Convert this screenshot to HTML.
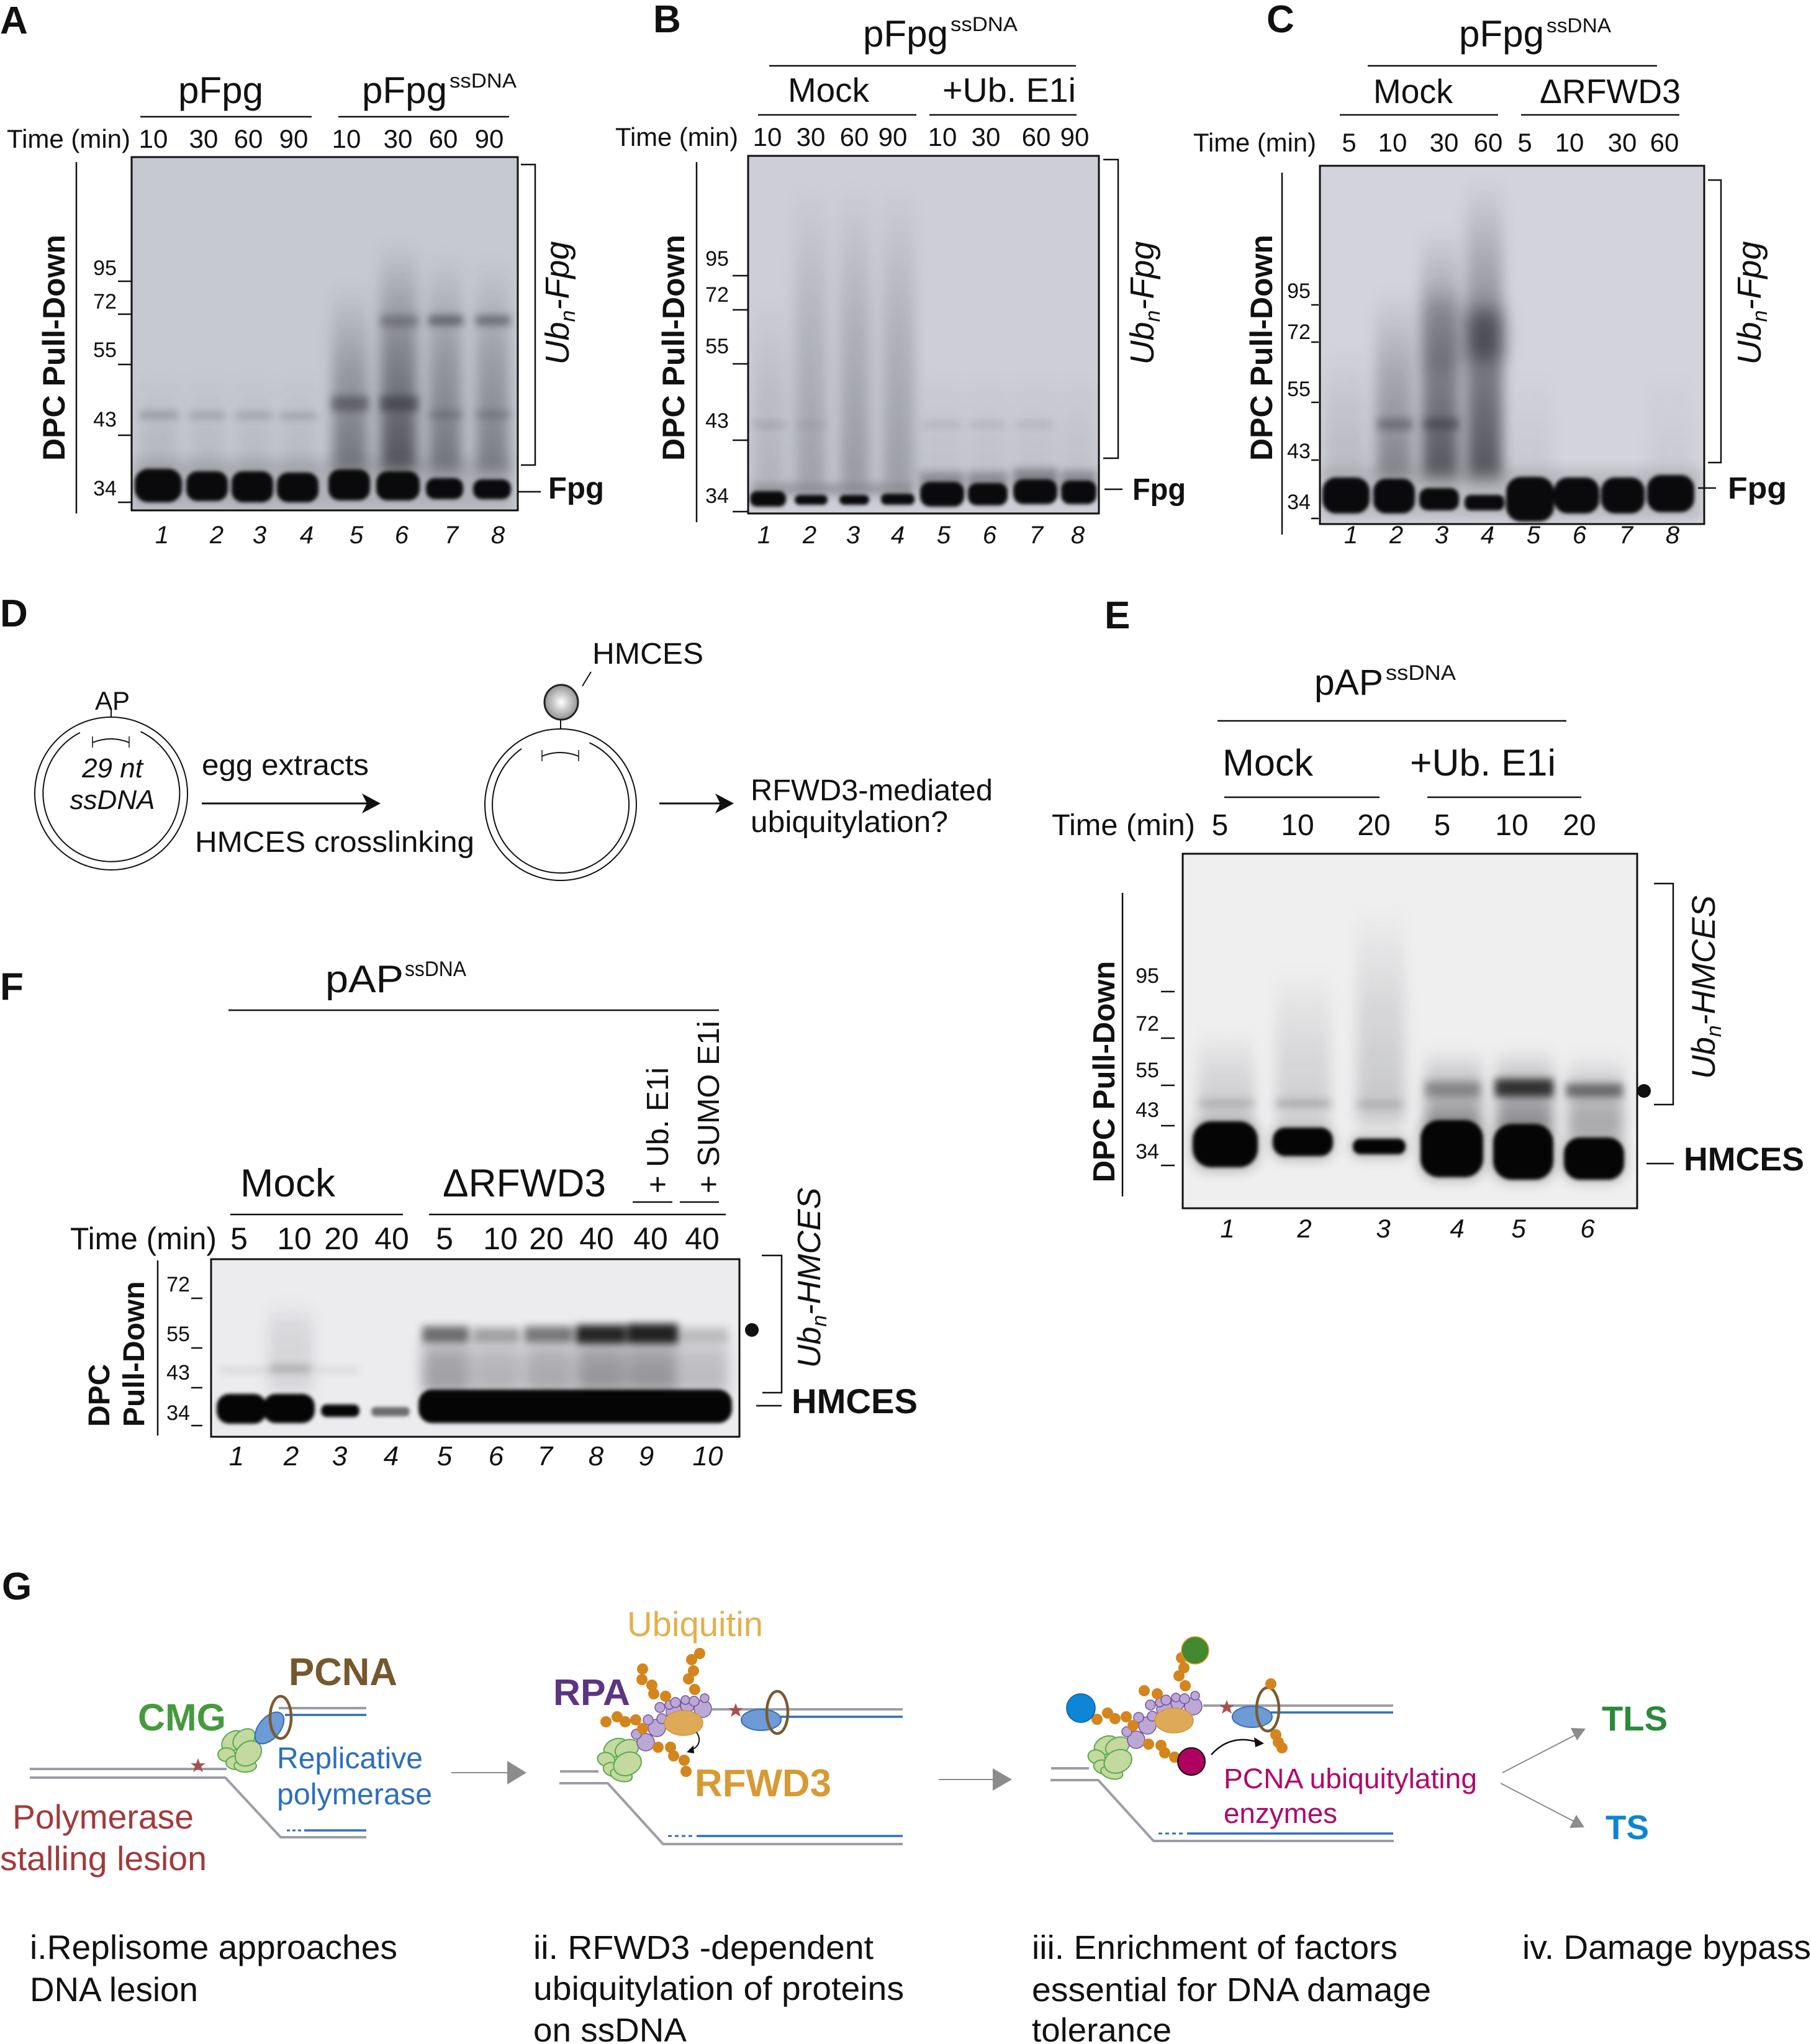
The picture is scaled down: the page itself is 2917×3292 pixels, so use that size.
<!DOCTYPE html>
<html><head><meta charset="utf-8"><style>html,body{margin:0;padding:0;background:#fff}svg{display:block}</style></head>
<body>
<svg xmlns="http://www.w3.org/2000/svg" xmlns:xlink="http://www.w3.org/1999/xlink" width="2917" height="3292" viewBox="0 0 2917 3292" font-family="'Liberation Sans', Arial, sans-serif" fill="#111">
<defs>
<filter id="f3" x="-50%" y="-50%" width="200%" height="200%" color-interpolation-filters="sRGB"><feGaussianBlur stdDeviation="3"/></filter>
<filter id="f6" x="-50%" y="-50%" width="200%" height="200%" color-interpolation-filters="sRGB"><feGaussianBlur stdDeviation="6"/></filter>
<filter id="f9" x="-50%" y="-50%" width="200%" height="200%" color-interpolation-filters="sRGB"><feGaussianBlur stdDeviation="9"/></filter>
<filter id="fs" x="-50%" y="-50%" width="200%" height="200%" color-interpolation-filters="sRGB"><feGaussianBlur stdDeviation="11 14"/></filter>
<filter id="f16" x="-50%" y="-50%" width="200%" height="200%" color-interpolation-filters="sRGB"><feGaussianBlur stdDeviation="16"/></filter>
<linearGradient id="sm" x1="0" y1="0" x2="0" y2="1"><stop offset="0" stop-color="#1e1f25" stop-opacity="0"/><stop offset="0.45" stop-color="#1e1f25" stop-opacity="0.55"/><stop offset="1" stop-color="#1e1f25" stop-opacity="1"/></linearGradient>
<linearGradient id="smu" x1="0" y1="0" x2="0" y2="1"><stop offset="0" stop-color="#1e1f25" stop-opacity="0"/><stop offset="0.25" stop-color="#1e1f25" stop-opacity="0.8"/><stop offset="1" stop-color="#1e1f25" stop-opacity="1"/></linearGradient>
<clipPath id="cA"><rect x="212" y="253" width="622" height="569"/></clipPath>
<clipPath id="cB"><rect x="1205" y="251" width="565" height="576"/></clipPath>
<clipPath id="cC"><rect x="2126" y="267" width="619" height="577"/></clipPath>
<clipPath id="cE"><rect x="1905" y="1375" width="732" height="571"/></clipPath>
<clipPath id="cF"><rect x="340" y="2028" width="851" height="286"/></clipPath>
<radialGradient id="gball" cx="0.5" cy="0.5" r="0.6"><stop offset="0" stop-color="#ffffff"/><stop offset="1" stop-color="#7d7d7d"/></radialGradient>
<g id="cmg" fill="#c3d9a0" stroke="#5aaa4b" stroke-width="2">
<ellipse cx="-10" cy="-17" rx="20" ry="14" transform="rotate(-40 -10 -17)"/>
<ellipse cx="8" cy="-20" rx="20" ry="14" transform="rotate(-40 8 -20)"/>
<ellipse cx="-20" cy="5" rx="14" ry="11"/>
<ellipse cx="-5" cy="18" rx="16" ry="11"/>
<ellipse cx="10" cy="23" rx="18" ry="10"/>
<ellipse cx="15" cy="3" rx="23" ry="18" transform="rotate(-40 15 3)"/>
</g>
<g id="rpa" fill="#bba8d5" stroke="#74509e" stroke-width="1.5">
<circle cx="1132" cy="2752" r="14"/><circle cx="1058" cy="2783" r="14"/><circle cx="1040" cy="2806" r="14"/>
<circle cx="1086" cy="2757" r="13"/><circle cx="1107" cy="2747" r="11"/>
<circle cx="1063" cy="2750" r="8"/><circle cx="1078" cy="2746" r="7"/><circle cx="1088" cy="2742" r="8"/>
<circle cx="1104" cy="2738" r="7"/><circle cx="1118" cy="2740" r="8"/><circle cx="1135" cy="2735" r="7"/>
<circle cx="1044" cy="2770" r="8"/><circle cx="1025" cy="2793" r="8"/><circle cx="1066" cy="2768" r="8"/>
</g>
</defs>
<rect width="2917" height="3292" fill="#fff"/>

<!-- ================= PANEL A ================= -->
<text x="0" y="54" font-size="62" font-weight="bold">A</text>
<text x="287" y="166" font-size="60" textLength="137" lengthAdjust="spacingAndGlyphs">pFpg</text>
<text x="583" y="166" font-size="60" textLength="137" lengthAdjust="spacingAndGlyphs">pFpg</text>
<text x="724" y="141" font-size="32" textLength="108" lengthAdjust="spacingAndGlyphs">ssDNA</text>
<g stroke="#111" stroke-width="2.5"><line x1="226" y1="188" x2="502" y2="188"/><line x1="545" y1="188" x2="820" y2="188"/></g>
<text x="11" y="238" font-size="42" textLength="199" lengthAdjust="spacingAndGlyphs">Time (min)</text>
<g font-size="42" text-anchor="middle">
<text x="247" y="238">10</text><text x="328" y="238">30</text><text x="400" y="238">60</text><text x="473" y="238">90</text>
<text x="558" y="238">10</text><text x="641" y="238">30</text><text x="714" y="238">60</text><text x="788" y="238">90</text>
</g>
<g clip-path="url(#cA)">
<rect x="212" y="253" width="622" height="569" fill="#c7c9d1"/>
<g fill="url(#sm)" filter="url(#fs)">
<rect x="225" y="600" width="62" height="170" opacity="0.12"/>
<rect x="305" y="600" width="58" height="170" opacity="0.1"/>
<rect x="380" y="600" width="58" height="170" opacity="0.1"/>
<rect x="452" y="600" width="58" height="170" opacity="0.1"/>
<rect x="535" y="460" width="58" height="300" opacity="0.5"/>
<rect x="612" y="390" width="60" height="370" opacity="0.7"/>
<rect x="690" y="410" width="54" height="350" opacity="0.5"/>
<rect x="766" y="420" width="54" height="340" opacity="0.45"/>
</g>
<g fill="#202126" filter="url(#f6)">
<rect x="534" y="638" width="60" height="24" opacity="0.4"/>
<rect x="612" y="638" width="62" height="24" opacity="0.45"/>
<rect x="612" y="508" width="62" height="18" opacity="0.3"/>
<rect x="690" y="508" width="56" height="16" opacity="0.5"/>
<rect x="766" y="508" width="56" height="16" opacity="0.45"/>
<rect x="690" y="663" width="56" height="10" opacity="0.25"/>
<rect x="766" y="663" width="56" height="10" opacity="0.25"/>
<rect x="225" y="664" width="62" height="9" opacity="0.3"/>
<rect x="305" y="665" width="58" height="8" opacity="0.25"/>
<rect x="380" y="665" width="58" height="8" opacity="0.25"/>
<rect x="452" y="666" width="58" height="8" opacity="0.25"/>
</g>
<g fill="#333" filter="url(#f9)" opacity="0.15">
<rect x="215" y="740" width="610" height="80"/>
</g>
<g fill="#0a0a0c" filter="url(#f3)">
<rect x="217" y="755" width="76" height="54" rx="22"/>
<rect x="300" y="759" width="67" height="48" rx="18"/>
<rect x="373" y="759" width="67" height="50" rx="18"/>
<rect x="446" y="761" width="67" height="48" rx="18"/>
<rect x="529" y="756" width="67" height="50" rx="18"/>
<rect x="606" y="759" width="70" height="47" rx="18"/>
<rect x="686" y="770" width="60" height="34" rx="14"/>
<rect x="762" y="772" width="61" height="32" rx="14"/>
</g>
</g>
<rect x="212" y="253" width="622" height="569" fill="none" stroke="#111" stroke-width="3"/>
<line x1="123" y1="261" x2="123" y2="827" stroke="#111" stroke-width="2.5"/>
<text transform="translate(104,560) rotate(-90)" text-anchor="middle" font-size="50" font-weight="bold">DPC Pull-Down</text>
<g font-size="34" text-anchor="middle">
<text x="169" y="443">95</text><text x="169" y="497">72</text><text x="169" y="575">55</text><text x="169" y="687">43</text><text x="169" y="798">34</text>
</g>
<g stroke="#111" stroke-width="2.5">
<line x1="190" y1="453" x2="212" y2="453"/><line x1="190" y1="506" x2="212" y2="506"/><line x1="190" y1="587" x2="212" y2="587"/><line x1="190" y1="701" x2="212" y2="701"/><line x1="190" y1="809" x2="212" y2="809"/>
</g>
<g font-size="40" font-style="italic" text-anchor="middle">
<text x="261" y="875">1</text><text x="349" y="875">2</text><text x="418" y="875">3</text><text x="494" y="875">4</text>
<text x="574" y="875">5</text><text x="647" y="875">6</text><text x="727" y="875">7</text><text x="802" y="875">8</text>
</g>
<path d="M839,265 H862 V749 H839" fill="none" stroke="#111" stroke-width="2.5"/>
<text transform="translate(916,488) rotate(-90)" text-anchor="middle" font-size="54" font-style="italic">Ub<tspan font-size="34" dy="10">n</tspan><tspan dy="-10">-Fpg</tspan></text>
<line x1="835" y1="792" x2="871" y2="792" stroke="#111" stroke-width="2.5"/>
<text x="883" y="803" font-size="49" font-weight="bold" textLength="90" lengthAdjust="spacingAndGlyphs">Fpg</text>

<!-- ================= PANEL B ================= -->
<text x="1052" y="52" font-size="62" font-weight="bold">B</text>
<text x="1390" y="75" font-size="60" textLength="137" lengthAdjust="spacingAndGlyphs">pFpg</text>
<text x="1531" y="50" font-size="32" textLength="108" lengthAdjust="spacingAndGlyphs">ssDNA</text>
<line x1="1239" y1="106" x2="1733" y2="106" stroke="#111" stroke-width="2.5"/>
<text x="1269" y="164" font-size="55" textLength="131" lengthAdjust="spacingAndGlyphs">Mock</text>
<text x="1518" y="164" font-size="55" textLength="215" lengthAdjust="spacingAndGlyphs">+Ub. E1i</text>
<g stroke="#111" stroke-width="2.5"><line x1="1221" y1="185" x2="1476" y2="185"/><line x1="1497" y1="185" x2="1734" y2="185"/></g>
<text x="991" y="235" font-size="42" textLength="198" lengthAdjust="spacingAndGlyphs">Time (min)</text>
<g font-size="42" text-anchor="middle">
<text x="1236" y="235">10</text><text x="1306" y="235">30</text><text x="1376" y="235">60</text><text x="1438" y="235">90</text>
<text x="1518" y="235">10</text><text x="1588" y="235">30</text><text x="1669" y="235">60</text><text x="1731" y="235">90</text>
</g>
<g clip-path="url(#cB)">
<rect x="1205" y="251" width="565" height="576" fill="#cdced6"/>
<g fill="url(#sm)" filter="url(#fs)">
<rect x="1212" y="480" width="54" height="310" opacity="0.16"/>
<rect x="1280" y="300" width="52" height="490" opacity="0.26"/>
<rect x="1352" y="300" width="50" height="490" opacity="0.3"/>
<rect x="1421" y="300" width="52" height="490" opacity="0.28"/>
<rect x="1482" y="600" width="70" height="180" opacity="0.08"/>
<rect x="1559" y="600" width="64" height="180" opacity="0.08"/>
<rect x="1632" y="600" width="70" height="180" opacity="0.08"/>
<rect x="1709" y="600" width="57" height="180" opacity="0.08"/>
</g>
<g fill="#2a2b30" filter="url(#f6)">
<rect x="1212" y="678" width="54" height="12" opacity="0.12"/>
<rect x="1282" y="679" width="50" height="10" opacity="0.08"/>
<rect x="1488" y="679" width="60" height="10" opacity="0.1"/>
<rect x="1562" y="679" width="58" height="10" opacity="0.1"/>
<rect x="1636" y="679" width="60" height="10" opacity="0.1"/>
</g>
<g fill="#2a2b30" filter="url(#f6)">
<rect x="1482" y="760" width="71" height="30" opacity="0.35"/>
<rect x="1559" y="760" width="64" height="30" opacity="0.35"/>
<rect x="1632" y="755" width="71" height="30" opacity="0.4"/>
<rect x="1709" y="758" width="57" height="30" opacity="0.35"/>
<rect x="1210" y="778" width="260" height="20" opacity="0.25"/>
</g>
<g fill="#0a0a0c" filter="url(#f3)">
<rect x="1208" y="791" width="58" height="25" rx="11"/>
<rect x="1280" y="797" width="53" height="16" rx="8"/>
<rect x="1352" y="797" width="48" height="16" rx="8"/>
<rect x="1419" y="795" width="54" height="18" rx="8"/>
<rect x="1482" y="776" width="71" height="40" rx="16"/>
<rect x="1559" y="778" width="64" height="36" rx="14"/>
<rect x="1632" y="772" width="71" height="40" rx="16"/>
<rect x="1709" y="774" width="57" height="38" rx="14"/>
</g>
</g>
<rect x="1205" y="251" width="565" height="576" fill="none" stroke="#111" stroke-width="3"/>
<line x1="1122" y1="261" x2="1122" y2="841" stroke="#111" stroke-width="2.5"/>
<text transform="translate(1102,560) rotate(-90)" text-anchor="middle" font-size="50" font-weight="bold">DPC Pull-Down</text>
<g font-size="34" text-anchor="middle">
<text x="1155" y="428">95</text><text x="1155" y="486">72</text><text x="1155" y="569">55</text><text x="1155" y="689">43</text><text x="1155" y="810">34</text>
</g>
<g stroke="#111" stroke-width="2.5">
<line x1="1180" y1="444" x2="1205" y2="444"/><line x1="1180" y1="499" x2="1205" y2="499"/><line x1="1180" y1="586" x2="1205" y2="586"/><line x1="1180" y1="709" x2="1205" y2="709"/><line x1="1180" y1="824" x2="1205" y2="824"/>
</g>
<g font-size="40" font-style="italic" text-anchor="middle">
<text x="1231" y="875">1</text><text x="1304" y="875">2</text><text x="1374" y="875">3</text><text x="1446" y="875">4</text>
<text x="1520" y="875">5</text><text x="1594" y="875">6</text><text x="1669" y="875">7</text><text x="1736" y="875">8</text>
</g>
<path d="M1777,257 H1801 V738 H1777" fill="none" stroke="#111" stroke-width="2.5"/>
<text transform="translate(1858,488) rotate(-90)" text-anchor="middle" font-size="54" font-style="italic">Ub<tspan font-size="34" dy="10">n</tspan><tspan dy="-10">-Fpg</tspan></text>
<line x1="1779" y1="788" x2="1808" y2="788" stroke="#111" stroke-width="2.5"/>
<text x="1824" y="805" font-size="49" font-weight="bold" textLength="86" lengthAdjust="spacingAndGlyphs">Fpg</text>

<!-- ================= PANEL C ================= -->
<text x="2040" y="52" font-size="62" font-weight="bold">C</text>
<text x="2350" y="75" font-size="60" textLength="137" lengthAdjust="spacingAndGlyphs">pFpg</text>
<text x="2491" y="52" font-size="32" textLength="104" lengthAdjust="spacingAndGlyphs">ssDNA</text>
<line x1="2203" y1="106" x2="2669" y2="106" stroke="#111" stroke-width="2.5"/>
<text x="2212" y="166" font-size="55" textLength="128" lengthAdjust="spacingAndGlyphs">Mock</text>
<text x="2480" y="166" font-size="55" textLength="227" lengthAdjust="spacingAndGlyphs">ΔRFWD3</text>
<g stroke="#111" stroke-width="2.5"><line x1="2158" y1="185" x2="2413" y2="185"/><line x1="2450" y1="185" x2="2705" y2="185"/></g>
<text x="1922" y="244" font-size="42" textLength="198" lengthAdjust="spacingAndGlyphs">Time (min)</text>
<g font-size="42" text-anchor="middle">
<text x="2173" y="244">5</text><text x="2243" y="244">10</text><text x="2326" y="244">30</text><text x="2397" y="244">60</text>
<text x="2456" y="244">5</text><text x="2528" y="244">10</text><text x="2613" y="244">30</text><text x="2681" y="244">60</text>
</g>
<g clip-path="url(#cC)">
<rect x="2126" y="267" width="619" height="577" fill="#d3d4db"/>
<g fill="url(#sm)" filter="url(#fs)">
<rect x="2132" y="560" width="70" height="210" opacity="0.15"/>
<rect x="2216" y="470" width="60" height="300" opacity="0.45"/>
<rect x="2290" y="370" width="60" height="400" opacity="0.7"/>
<rect x="2362" y="290" width="58" height="480" opacity="0.7"/>
<rect x="2430" y="600" width="70" height="170" opacity="0.06"/>
<rect x="2655" y="600" width="70" height="170" opacity="0.05"/>
</g>
<g fill="#1a1b20" filter="url(#f6)">
<rect x="2218" y="674" width="58" height="18" opacity="0.3"/>
<rect x="2292" y="674" width="58" height="18" opacity="0.35"/>
</g>
<g fill="#1a1b20" filter="url(#f16)">
<rect x="2364" y="500" width="54" height="80" opacity="0.55"/>
<rect x="2294" y="480" width="54" height="120" opacity="0.2"/>
</g>
<g fill="#333" filter="url(#f9)" opacity="0.15">
<rect x="2128" y="755" width="610" height="80"/>
</g>
<g fill="#0a0a0c" filter="url(#f3)">
<rect x="2130" y="769" width="76" height="58" rx="22"/>
<rect x="2212" y="771" width="67" height="56" rx="20"/>
<rect x="2286" y="786" width="64" height="36" rx="14"/>
<rect x="2359" y="797" width="64" height="25" rx="10"/>
<rect x="2426" y="768" width="77" height="72" rx="24"/>
<rect x="2503" y="769" width="73" height="58" rx="22"/>
<rect x="2579" y="769" width="70" height="58" rx="22"/>
<rect x="2653" y="765" width="76" height="60" rx="22"/>
</g>
</g>
<rect x="2126" y="267" width="619" height="577" fill="none" stroke="#111" stroke-width="3"/>
<line x1="2065" y1="278" x2="2065" y2="861" stroke="#111" stroke-width="2.5"/>
<text transform="translate(2049,560) rotate(-90)" text-anchor="middle" font-size="50" font-weight="bold">DPC Pull-Down</text>
<g font-size="34" text-anchor="middle">
<text x="2092" y="480">95</text><text x="2092" y="546">72</text><text x="2092" y="638">55</text><text x="2092" y="738">43</text><text x="2092" y="820">34</text>
</g>
<g stroke="#111" stroke-width="2.5">
<line x1="2112" y1="491" x2="2124" y2="491"/><line x1="2112" y1="551" x2="2124" y2="551"/><line x1="2112" y1="648" x2="2124" y2="648"/><line x1="2112" y1="741" x2="2124" y2="741"/><line x1="2112" y1="835" x2="2124" y2="835"/>
</g>
<g font-size="40" font-style="italic" text-anchor="middle">
<text x="2176" y="875">1</text><text x="2249" y="875">2</text><text x="2322" y="875">3</text><text x="2396" y="875">4</text>
<text x="2470" y="875">5</text><text x="2544" y="875">6</text><text x="2619" y="875">7</text><text x="2694" y="875">8</text>
</g>
<path d="M2751,290 H2772 V745 H2751" fill="none" stroke="#111" stroke-width="2.5"/>
<text transform="translate(2836,488) rotate(-90)" text-anchor="middle" font-size="54" font-style="italic">Ub<tspan font-size="34" dy="10">n</tspan><tspan dy="-10">-Fpg</tspan></text>
<line x1="2735" y1="786" x2="2764" y2="786" stroke="#111" stroke-width="2.5"/>
<text x="2783" y="803" font-size="49" font-weight="bold" textLength="95" lengthAdjust="spacingAndGlyphs">Fpg</text>

<!-- ================= PANEL D ================= -->
<text x="0" y="1009" font-size="62" font-weight="bold">D</text>
<text x="181" y="1143" font-size="42" text-anchor="middle">AP</text>
<line x1="179" y1="1143" x2="179" y2="1155" stroke="#111" stroke-width="2"/>
<circle cx="179" cy="1278" r="123" fill="none" stroke="#111" stroke-width="2"/>
<path d="M 226.5 1178.3 A 110 110 0 1 1 128.8 1180.0" fill="none" stroke="#111" stroke-width="2"/>
<path d="M149,1196 Q179,1184 208,1196" fill="none" stroke="#111" stroke-width="2"/>
<line x1="149" y1="1186" x2="149" y2="1204" stroke="#111" stroke-width="1.5"/><line x1="208" y1="1186" x2="208" y2="1204" stroke="#111" stroke-width="1.5"/>
<text x="181" y="1252" font-size="44" font-style="italic" text-anchor="middle">29 nt</text>
<text x="181" y="1303" font-size="44" font-style="italic" text-anchor="middle">ssDNA</text>
<text x="325" y="1248" font-size="47" textLength="269" lengthAdjust="spacingAndGlyphs">egg extracts</text>
<line x1="325" y1="1294" x2="595" y2="1294" stroke="#111" stroke-width="3"/>
<polygon points="583,1278 613,1294 583,1310 591,1294" fill="#111"/>
<text x="314" y="1372" font-size="47" textLength="450" lengthAdjust="spacingAndGlyphs">HMCES crosslinking</text>
<circle cx="903" cy="1296" r="122" fill="none" stroke="#111" stroke-width="2"/>
<path d="M 949.5 1196.3 A 110 110 0 1 1 840.0 1205.9" fill="none" stroke="#111" stroke-width="2"/>
<path d="M873,1218 Q902,1206 932,1218" fill="none" stroke="#111" stroke-width="2"/>
<line x1="873" y1="1208" x2="873" y2="1226" stroke="#111" stroke-width="1.5"/><line x1="932" y1="1208" x2="932" y2="1226" stroke="#111" stroke-width="1.5"/>
<line x1="903" y1="1159" x2="903" y2="1174" stroke="#111" stroke-width="2"/>
<ellipse cx="904" cy="1131" rx="27" ry="28" fill="url(#gball)" stroke="#222" stroke-width="3"/>
<line x1="938" y1="1105" x2="952" y2="1082" stroke="#111" stroke-width="2"/>
<text x="954" y="1069" font-size="48" textLength="179" lengthAdjust="spacingAndGlyphs">HMCES</text>
<line x1="1062" y1="1294" x2="1165" y2="1294" stroke="#111" stroke-width="3"/>
<polygon points="1152,1278 1182,1294 1152,1310 1160,1294" fill="#111"/>
<text x="1209" y="1289" font-size="48" textLength="390" lengthAdjust="spacingAndGlyphs">RFWD3-mediated</text>
<text x="1209" y="1340" font-size="48" textLength="318" lengthAdjust="spacingAndGlyphs">ubiquitylation?</text>

<!-- ================= PANEL E ================= -->
<text x="1779" y="1012" font-size="62" font-weight="bold">E</text>
<text x="2117" y="1119" font-size="58" textLength="111" lengthAdjust="spacingAndGlyphs">pAP</text>
<text x="2232" y="1095" font-size="34" textLength="113" lengthAdjust="spacingAndGlyphs">ssDNA</text>
<line x1="1961" y1="1161" x2="2523" y2="1161" stroke="#111" stroke-width="2.5"/>
<text x="1969" y="1249" font-size="60" textLength="146" lengthAdjust="spacingAndGlyphs">Mock</text>
<text x="2271" y="1249" font-size="60" textLength="235" lengthAdjust="spacingAndGlyphs">+Ub. E1i</text>
<g stroke="#111" stroke-width="2.5"><line x1="1972" y1="1284" x2="2222" y2="1284"/><line x1="2299" y1="1284" x2="2547" y2="1284"/></g>
<text x="1694" y="1345" font-size="48" textLength="231" lengthAdjust="spacingAndGlyphs">Time (min)</text>
<g font-size="48" text-anchor="middle">
<text x="1965" y="1345">5</text><text x="2090" y="1345">10</text><text x="2213" y="1345">20</text>
<text x="2323" y="1345">5</text><text x="2435" y="1345">10</text><text x="2544" y="1345">20</text>
</g>
<g clip-path="url(#cE)">
<rect x="1905" y="1375" width="732" height="571" fill="#efeff0"/>
<g fill="url(#sm)" filter="url(#fs)">
<rect x="1930" y="1660" width="90" height="150" opacity="0.2"/>
<rect x="2055" y="1560" width="88" height="250" opacity="0.17"/>
<rect x="2185" y="1460" width="78" height="350" opacity="0.2"/>
<rect x="2295" y="1690" width="92" height="130" opacity="0.45"/>
<rect x="2410" y="1690" width="92" height="130" opacity="0.5"/>
<rect x="2525" y="1700" width="90" height="130" opacity="0.4"/>
</g>
<g fill="#111" filter="url(#f6)">
<rect x="1930" y="1772" width="90" height="10" opacity="0.18"/>
<rect x="2055" y="1772" width="88" height="10" opacity="0.22"/>
<rect x="2185" y="1774" width="75" height="9" opacity="0.18"/>
<rect x="2295" y="1742" width="90" height="24" opacity="0.3"/>
<rect x="2408" y="1738" width="94" height="28" opacity="0.8"/>
<rect x="2522" y="1745" width="92" height="22" opacity="0.5"/>
</g>
<g fill="#333" filter="url(#f9)" opacity="0.25">
<rect x="1918" y="1800" width="112" height="88" rx="30"/>
<rect x="2046" y="1810" width="105" height="60" rx="25"/>
<rect x="2175" y="1828" width="93" height="38" rx="15"/>
<rect x="2284" y="1798" width="109" height="105" rx="30"/>
<rect x="2400" y="1804" width="107" height="102" rx="30"/>
<rect x="2514" y="1826" width="106" height="80" rx="30"/>
</g>
<g fill="#050505" filter="url(#f3)">
<rect x="1921" y="1806" width="105" height="74" rx="30"/>
<rect x="2050" y="1816" width="97" height="46" rx="20"/>
<rect x="2179" y="1834" width="85" height="25" rx="12"/>
<rect x="2288" y="1804" width="101" height="92" rx="30"/>
<rect x="2405" y="1810" width="97" height="90" rx="30"/>
<rect x="2519" y="1832" width="97" height="68" rx="26"/>
</g>
</g>
<rect x="1905" y="1375" width="732" height="571" fill="none" stroke="#111" stroke-width="3"/>
<line x1="1808" y1="1438" x2="1808" y2="1927" stroke="#111" stroke-width="2.5"/>
<text transform="translate(1795,1726) rotate(-90)" text-anchor="middle" font-size="49" font-weight="bold">DPC Pull-Down</text>
<g font-size="34" text-anchor="middle">
<text x="1848" y="1583">95</text><text x="1848" y="1660">72</text><text x="1848" y="1735">55</text><text x="1848" y="1799">43</text><text x="1848" y="1866">34</text>
</g>
<g stroke="#111" stroke-width="2.5">
<line x1="1870" y1="1597" x2="1892" y2="1597"/><line x1="1870" y1="1672" x2="1892" y2="1672"/><line x1="1870" y1="1748" x2="1892" y2="1748"/><line x1="1870" y1="1813" x2="1892" y2="1813"/><line x1="1870" y1="1877" x2="1892" y2="1877"/>
</g>
<g font-size="42" font-style="italic" text-anchor="middle">
<text x="1977" y="1993">1</text><text x="2101" y="1993">2</text><text x="2228" y="1993">3</text>
<text x="2347" y="1993">4</text><text x="2446" y="1993">5</text><text x="2557" y="1993">6</text>
</g>
<path d="M2664,1423 H2695 V1779 H2664" fill="none" stroke="#111" stroke-width="2.5"/>
<circle cx="2648" cy="1757" r="11" fill="#111"/>
<text transform="translate(2762,1590) rotate(-90)" text-anchor="middle" font-size="53" font-style="italic">Ub<tspan font-size="34" dy="10">n</tspan><tspan dy="-10">-HMCES</tspan></text>
<line x1="2652" y1="1874" x2="2696" y2="1874" stroke="#111" stroke-width="2.5"/>
<text x="2712" y="1885" font-size="53" font-weight="bold" textLength="194" lengthAdjust="spacingAndGlyphs">HMCES</text>

<!-- ================= PANEL F ================= -->
<text x="0" y="1610" font-size="62" font-weight="bold">F</text>
<text x="524" y="1598" font-size="62" textLength="126" lengthAdjust="spacingAndGlyphs">pAP</text>
<text x="652" y="1572" font-size="34" textLength="99" lengthAdjust="spacingAndGlyphs">ssDNA</text>
<line x1="368" y1="1627" x2="1158" y2="1627" stroke="#111" stroke-width="2.5"/>
<text transform="translate(1076,1922) rotate(-90)" font-size="49" textLength="203" lengthAdjust="spacingAndGlyphs">+ Ub. E1i</text>
<text transform="translate(1158,1922) rotate(-90)" font-size="49" textLength="278" lengthAdjust="spacingAndGlyphs">+ SUMO E1i</text>
<g stroke="#111" stroke-width="2.5"><line x1="1019" y1="1936" x2="1083" y2="1936"/><line x1="1095" y1="1936" x2="1158" y2="1936"/></g>
<text x="387" y="1927" font-size="63" textLength="153" lengthAdjust="spacingAndGlyphs">Mock</text>
<text x="713" y="1927" font-size="63" textLength="263" lengthAdjust="spacingAndGlyphs">ΔRFWD3</text>
<g stroke="#111" stroke-width="2.5"><line x1="371" y1="1956" x2="649" y2="1956"/><line x1="691" y1="1956" x2="1169" y2="1956"/></g>
<text x="113" y="2012" font-size="50" textLength="236" lengthAdjust="spacingAndGlyphs">Time (min)</text>
<g font-size="50" text-anchor="middle">
<text x="385" y="2012">5</text><text x="474" y="2012">10</text><text x="550" y="2012">20</text><text x="631" y="2012">40</text>
<text x="716" y="2012">5</text><text x="806" y="2012">10</text><text x="880" y="2012">20</text><text x="961" y="2012">40</text><text x="1048" y="2012">40</text><text x="1131" y="2012">40</text>
</g>
<g clip-path="url(#cF)">
<rect x="340" y="2028" width="851" height="286" fill="#ececef"/>
<g fill="url(#smu)" filter="url(#fs)">
<rect x="680" y="2150" width="78" height="95" opacity="0.4"/>
<rect x="762" y="2150" width="78" height="95" opacity="0.3"/>
<rect x="845" y="2150" width="78" height="95" opacity="0.35"/>
<rect x="928" y="2150" width="80" height="95" opacity="0.45"/>
<rect x="1010" y="2150" width="82" height="95" opacity="0.45"/>
<rect x="1095" y="2150" width="78" height="95" opacity="0.25"/>
<rect x="432" y="2100" width="72" height="140" opacity="0.12"/>
</g>
<g fill="#111" filter="url(#f6)">
<rect x="680" y="2136" width="75" height="26" opacity="0.55"/>
<rect x="762" y="2138" width="75" height="24" opacity="0.3"/>
<rect x="845" y="2136" width="78" height="26" opacity="0.5"/>
<rect x="928" y="2134" width="80" height="30" opacity="0.9"/>
<rect x="1010" y="2132" width="82" height="32" opacity="0.92"/>
<rect x="1095" y="2138" width="78" height="24" opacity="0.18"/>
<rect x="355" y="2203" width="70" height="8" opacity="0.12"/>
<rect x="432" y="2200" width="70" height="9" opacity="0.25"/>
<rect x="512" y="2203" width="65" height="8" opacity="0.1"/>
</g>
<g fill="#050505" filter="url(#f3)">
<rect x="349" y="2245" width="80" height="48" rx="20"/>
<rect x="424" y="2245" width="83" height="47" rx="20"/>
<rect x="517" y="2262" width="62" height="20" rx="9"/>
<rect x="598" y="2266" width="62" height="15" rx="7" opacity="0.55"/>
<rect x="674" y="2238" width="505" height="54" rx="22"/>
</g>
</g>
<rect x="340" y="2028" width="851" height="286" fill="none" stroke="#111" stroke-width="3"/>
<line x1="254" y1="2030" x2="254" y2="2312" stroke="#111" stroke-width="2.5"/>
<text transform="translate(176,2298) rotate(-90)" font-size="48" font-weight="bold">DPC</text>
<text transform="translate(232,2298) rotate(-90)" font-size="48" font-weight="bold">Pull-Down</text>
<g font-size="34" text-anchor="middle">
<text x="287" y="2080">72</text><text x="287" y="2160">55</text><text x="287" y="2222">43</text><text x="287" y="2287">34</text>
</g>
<g stroke="#111" stroke-width="2.5">
<line x1="308" y1="2091" x2="326" y2="2091"/><line x1="308" y1="2171" x2="326" y2="2171"/><line x1="308" y1="2235" x2="326" y2="2235"/><line x1="308" y1="2296" x2="326" y2="2296"/>
</g>
<g font-size="44" font-style="italic" text-anchor="middle">
<text x="381" y="2360">1</text><text x="469" y="2360">2</text><text x="547" y="2360">3</text><text x="630" y="2360">4</text><text x="716" y="2360">5</text>
<text x="799" y="2360">6</text><text x="878" y="2360">7</text><text x="960" y="2360">8</text><text x="1041" y="2360">9</text><text x="1140" y="2360">10</text>
</g>
<path d="M1227,2022 H1259 V2243 H1228" fill="none" stroke="#111" stroke-width="2.5"/>
<circle cx="1211" cy="2142" r="11" fill="#111"/>
<text transform="translate(1321,2058) rotate(-90)" text-anchor="middle" font-size="52" font-style="italic">Ub<tspan font-size="34" dy="10">n</tspan><tspan dy="-10">-HMCES</tspan></text>
<line x1="1218" y1="2264" x2="1259" y2="2264" stroke="#111" stroke-width="2.5"/>
<text x="1275" y="2276" font-size="56" font-weight="bold" textLength="203" lengthAdjust="spacingAndGlyphs">HMCES</text>

<!-- ================= PANEL G ================= -->
<text x="3" y="2576" font-size="62" font-weight="bold">G</text>

<!-- stage i -->
<g fill="none" stroke-linecap="butt">
<path d="M48,2849 H365" stroke="#9d9ea5" stroke-width="4"/>
<path d="M48,2863 H363 L452,2959 H590" stroke="#9d9ea5" stroke-width="4"/>
<path d="M449,2751 H590" stroke="#9d9ea5" stroke-width="4"/>
<path d="M459,2762 H590" stroke="#2f6fc0" stroke-width="3.5"/>
<path d="M490,2948 H590" stroke="#2f6fc0" stroke-width="3.5"/>
<path d="M462,2948 H488" stroke="#2f6fc0" stroke-width="3" stroke-dasharray="5,4"/>
</g>
<polygon points="319,2832 322,2840 331,2840 324,2845 327,2854 319,2849 311,2854 314,2845 307,2840 316,2840" fill="#a8504f"/>
<use xlink:href="#cmg" transform="translate(385,2821)"/>
<ellipse cx="434" cy="2783" rx="30" ry="17" transform="rotate(-50 434 2783)" fill="#6c9bd6" stroke="#3a6db4" stroke-width="2"/>
<ellipse cx="452" cy="2766" rx="17" ry="34" fill="none" stroke="#7a5a30" stroke-width="4.5"/>
<text x="465" y="2714" font-size="62" font-weight="bold" fill="#76582d" textLength="175" lengthAdjust="spacingAndGlyphs">PCNA</text>
<text x="222" y="2787" font-size="61" font-weight="bold" fill="#47993f" textLength="142" lengthAdjust="spacingAndGlyphs">CMG</text>
<text x="446" y="2848" font-size="48" fill="#2e6ebd" textLength="235" lengthAdjust="spacingAndGlyphs">Replicative</text>
<text x="446" y="2906" font-size="48" fill="#2e6ebd" textLength="250" lengthAdjust="spacingAndGlyphs">polymerase</text>
<text x="20" y="2945" font-size="55" fill="#a2393b" textLength="292" lengthAdjust="spacingAndGlyphs">Polymerase</text>
<text x="0" y="3012" font-size="55" fill="#a2393b" textLength="333" lengthAdjust="spacingAndGlyphs">stalling lesion</text>
<line x1="727" y1="2855" x2="820" y2="2855" stroke="#8c8c8c" stroke-width="2"/>
<polygon points="817,2836 848,2855 817,2874" fill="#8c8c8c"/>
<text x="48" y="3155" font-size="55" textLength="592" lengthAdjust="spacingAndGlyphs">i.Replisome approaches</text>
<text x="48" y="3223" font-size="55" textLength="271" lengthAdjust="spacingAndGlyphs">DNA lesion</text>

<!-- stage ii -->
<g fill="none">
<path d="M902,2853 H964" stroke="#9d9ea5" stroke-width="4"/>
<path d="M901,2872 H979 L1068,2970 H1454" stroke="#9d9ea5" stroke-width="4"/>
<path d="M1147,2753 H1454" stroke="#9d9ea5" stroke-width="4"/>
<path d="M1257,2765 H1454" stroke="#2f6fc0" stroke-width="3.5"/>
<path d="M1122,2957 H1454" stroke="#2f6fc0" stroke-width="3.5"/>
<path d="M1076,2957 H1118" stroke="#2f6fc0" stroke-width="3" stroke-dasharray="6,5"/>
</g>
<polygon points="1185,2743 1188,2751 1197,2751 1190,2756 1193,2765 1185,2760 1177,2765 1180,2756 1173,2751 1182,2751" fill="#a8504f"/>
<ellipse cx="1226" cy="2770" rx="32" ry="17" fill="#6c9bd6" stroke="#3a6db4" stroke-width="2"/>
<ellipse cx="1252" cy="2758" rx="17" ry="34" fill="none" stroke="#7a5a30" stroke-width="4.5"/>
<g id="stage2cluster">
<use xlink:href="#cmg" transform="translate(997,2834) rotate(15)"/>
<use xlink:href="#rpa"/>
<ellipse cx="1101" cy="2775" rx="31" ry="20" fill="#deaa58" stroke="#d09540" stroke-width="1.5"/>
</g>
<g fill="#d4851d">
<circle cx="1127" cy="2663" r="9"/><circle cx="1114" cy="2673" r="9"/><circle cx="1117" cy="2691" r="9"/><circle cx="1109" cy="2704" r="9"/><circle cx="1119" cy="2721" r="9"/>
<circle cx="1035" cy="2688" r="9"/><circle cx="1034" cy="2705" r="9"/><circle cx="1050" cy="2714" r="9"/><circle cx="1053" cy="2728" r="9"/><circle cx="1072" cy="2732" r="9"/>
<circle cx="976" cy="2773" r="9"/><circle cx="994" cy="2765" r="9"/><circle cx="1007" cy="2773" r="9"/><circle cx="1024" cy="2770" r="9"/><circle cx="1035" cy="2784" r="9"/>
<circle cx="1060" cy="2814" r="9"/><circle cx="1080" cy="2814" r="9"/><circle cx="1085" cy="2828" r="9"/><circle cx="1102" cy="2835" r="9"/><circle cx="1105" cy="2853" r="9"/>
</g>
<path d="M1122,2790 C1130,2802 1126,2813 1114,2818" fill="none" stroke="#111" stroke-width="2"/>
<polygon points="1106,2822 1117,2811 1118,2824" fill="#111"/>
<text x="1010" y="2635" font-size="56" fill="#e2b04c" textLength="219" lengthAdjust="spacingAndGlyphs">Ubiquitin</text>
<text x="891" y="2746" font-size="59" font-weight="bold" fill="#5c3483" textLength="124" lengthAdjust="spacingAndGlyphs">RPA</text>
<text x="1119" y="2893" font-size="62" font-weight="bold" fill="#d79a34" textLength="220" lengthAdjust="spacingAndGlyphs">RFWD3</text>
<line x1="1512" y1="2866" x2="1601" y2="2866" stroke="#8c8c8c" stroke-width="2"/>
<polygon points="1599,2848 1630,2866 1599,2884" fill="#8c8c8c"/>
<text x="859" y="3155" font-size="54" textLength="548" lengthAdjust="spacingAndGlyphs">ii. RFWD3 -dependent</text>
<text x="859" y="3221" font-size="54" textLength="597" lengthAdjust="spacingAndGlyphs">ubiquitylation of proteins</text>
<text x="859" y="3288" font-size="54" textLength="247" lengthAdjust="spacingAndGlyphs">on ssDNA</text>

<!-- stage iii -->
<g fill="none">
<path d="M1693,2848 H1754" stroke="#9d9ea5" stroke-width="4"/>
<path d="M1692,2867 H1769 L1858,2965 H2245" stroke="#9d9ea5" stroke-width="4"/>
<path d="M1938,2747 H2244" stroke="#9d9ea5" stroke-width="4"/>
<path d="M2047,2758 H2244" stroke="#2f6fc0" stroke-width="3.5"/>
<path d="M1912,2953 H2244" stroke="#2f6fc0" stroke-width="3.5"/>
<path d="M1866,2953 H1908" stroke="#2f6fc0" stroke-width="3" stroke-dasharray="6,5"/>
</g>
<polygon points="1976,2738 1979,2746 1988,2746 1981,2751 1984,2760 1976,2755 1968,2760 1971,2751 1964,2746 1973,2746" fill="#a8504f"/>
<ellipse cx="2017" cy="2765" rx="32" ry="17" fill="#6c9bd6" stroke="#3a6db4" stroke-width="2"/>
<ellipse cx="2042" cy="2753" rx="18" ry="35" fill="none" stroke="#7a5a30" stroke-width="4.5"/>
<use xlink:href="#stage2cluster" transform="translate(790,-4)"/>
<g fill="#d4851d">
<circle cx="2047" cy="2712" r="9"/><circle cx="2055" cy="2794" r="9"/><circle cx="2059" cy="2806" r="9"/><circle cx="2065" cy="2815" r="9"/>
<circle cx="1903" cy="2670" r="9"/><circle cx="1907" cy="2686" r="9"/><circle cx="1899" cy="2699" r="9"/><circle cx="1909" cy="2715" r="9"/>
<circle cx="1767" cy="2769" r="9"/><circle cx="1784" cy="2759" r="9"/><circle cx="1796" cy="2768" r="9"/><circle cx="1814" cy="2765" r="9"/><circle cx="1825" cy="2779" r="9"/>
<circle cx="1843" cy="2723" r="9"/><circle cx="1864" cy="2728" r="9"/>
<circle cx="1850" cy="2809" r="9"/><circle cx="1870" cy="2811" r="9"/><circle cx="1876" cy="2823" r="9"/><circle cx="1892" cy="2830" r="9"/>
</g>
<circle cx="1741" cy="2751" r="23" fill="#0d86d8" stroke="#0a5fa0" stroke-width="1.5"/>
<circle cx="1925" cy="2658" r="22" fill="#43892f" stroke="#e0a030" stroke-width="1.5"/>
<circle cx="1919" cy="2837" r="22" fill="#b0005f" stroke="#111" stroke-width="2"/>
<path d="M1951,2826 Q1982,2792 2026,2806" fill="none" stroke="#111" stroke-width="2.5"/>
<polygon points="2036,2808 2020,2798 2022,2814" fill="#111"/>
<text x="1971" y="2880" font-size="45" fill="#b0086a" textLength="408" lengthAdjust="spacingAndGlyphs">PCNA ubiquitylating</text>
<text x="1971" y="2936" font-size="45" fill="#b0086a" textLength="183" lengthAdjust="spacingAndGlyphs">enzymes</text>
<text x="1662" y="3155" font-size="54" textLength="589" lengthAdjust="spacingAndGlyphs">iii. Enrichment of factors</text>
<text x="1662" y="3223" font-size="54" textLength="643" lengthAdjust="spacingAndGlyphs">essential for DNA damage</text>
<text x="1662" y="3288" font-size="54" textLength="225" lengthAdjust="spacingAndGlyphs">tolerance</text>

<!-- stage iv -->
<line x1="2420" y1="2855" x2="2540" y2="2793" stroke="#8c8c8c" stroke-width="2"/>
<polygon points="2530,2783 2554,2784 2540,2803" fill="#8c8c8c"/>
<line x1="2417" y1="2872" x2="2540" y2="2936" stroke="#8c8c8c" stroke-width="2"/>
<polygon points="2528,2944 2552,2943 2539,2923" fill="#8c8c8c"/>
<text x="2580" y="2787" font-size="56" font-weight="bold" fill="#2a8a3a" textLength="106" lengthAdjust="spacingAndGlyphs">TLS</text>
<text x="2586" y="2962" font-size="55" font-weight="bold" fill="#0b86d6" textLength="70" lengthAdjust="spacingAndGlyphs">TS</text>
<text x="2452" y="3155" font-size="55" textLength="465" lengthAdjust="spacingAndGlyphs">iv. Damage bypass</text>
</svg>
</body></html>
